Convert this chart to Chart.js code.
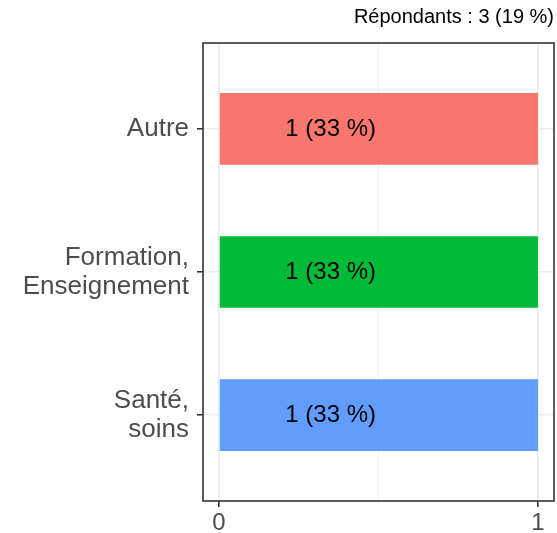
<!DOCTYPE html>
<html>
<head>
<meta charset="utf-8">
<script src="https://cdn.jsdelivr.net/npm/chart.js@4.4.1/dist/chart.umd.min.js"></script>
<style>
html, body { margin: 0; padding: 0; background: #fff; }
#wrap { width: 557px; height: 533px; }
</style>
</head>
<body>
<div id="wrap"><canvas id="chart"></canvas></div>
<script>
// categories from top to bottom, with the line breaks of the reference
var categories = [['Autre'], ['Formation,', 'Enseignement'], ['Santé,', 'soins']];
var counts = [1, 1, 1];
var barLabels = ['1 (33 %)', '1 (33 %)', '1 (33 %)'];
var xTicks = [0, 0.5, 1];
var xTickLabels = ['0', '', '1'];
var subtitle = 'Répondants : 3 (19 %)';

Chart.defaults.font.family = '"Liberation Sans", Arial, sans-serif';

// panel border like theme_bw, drawn over the bars
var panelBorder = {
	id: 'panelBorder',
	afterDatasetsDraw: function(chart){
		var a = chart.chartArea, ctx = chart.ctx;
		ctx.save();
		ctx.strokeStyle = '#333333';
		ctx.lineWidth = 1.6;
		ctx.strokeRect(a.left, a.top, a.right - a.left, a.bottom - a.top);
		ctx.restore();
	}
};

// "1 (33 %)" text inside each bar
var barText = {
	id: 'barText',
	afterDraw: function(chart){
		var ctx = chart.ctx;
		var x = chart.scales.x.getPixelForValue(0.35);
		ctx.save();
		ctx.font = '24px "Liberation Sans", Arial, sans-serif';
		ctx.fillStyle = '#000000';
		ctx.textAlign = 'center';
		ctx.textBaseline = 'middle';
		chart.getDatasetMeta(0).data.forEach(function(bar, i){
			ctx.fillText(barLabels[i], x, bar.y);
		});
		ctx.restore();
	}
};

new Chart(document.getElementById('chart'), {
	type: 'bar',
	data: {
		datasets: [{
			data: counts.map(function(v, i){ return {x: v, y: i}; }),
			backgroundColor: ['#F8766D', '#00BA38', '#619CFF'],
			borderWidth: 0,
			barPercentage: 1,
			categoryPercentage: 0.5
		}]
	},
	options: {
		indexAxis: 'y',
		responsive: true,
		maintainAspectRatio: false,
		animation: false,
		layout: { padding: { left: 0, right: 3, top: 0, bottom: 0 } },
		plugins: {
			legend: { display: false },
			tooltip: { enabled: false },
			title: {
				display: true,
				text: subtitle,
				align: 'end',
				color: '#000000',
				font: { size: 20, weight: 'normal' },
				padding: { top: 5, bottom: 14 }
			}
		},
		scales: {
			x: {
				type: 'linear',
				min: -0.05,
				max: 1.05,
				afterBuildTicks: function(scale){
					scale.ticks = xTicks.map(function(v){ return {value: v}; });
				},
				afterFit: function(scale){ scale.height = 32; },
				ticks: {
					color: '#4D4D4D',
					font: { size: 24, lineHeight: 1 },
					padding: 4,
					maxRotation: 0,
					callback: function(v, i){ return xTickLabels[i]; }
				},
				grid: {
					color: function(c){ return c.tick && c.tick.value === 0.5 ? '#F2F2F2' : '#EBEBEB'; },
					lineWidth: function(c){ return c.tick && c.tick.value === 0.5 ? 1 : 1.6; },
					tickColor: function(c){ return c.tick && c.tick.value === 0.5 ? 'rgba(0,0,0,0)' : '#333333'; },
					tickLength: 6,
					tickWidth: 1.6
				},
				border: { display: false }
			},
			y: {
				type: 'linear',
				reverse: true,
				offset: false,
				min: -0.6,
				max: 2.6,
				afterBuildTicks: function(scale){
					scale.ticks = categories.map(function(c, i){ return {value: i}; });
				},
				afterFit: function(scale){ scale.width = 203; },
				ticks: {
					color: '#4D4D4D',
					font: { size: 26, lineHeight: 1.12 },
					padding: 8,
					callback: function(v){ return categories[v]; }
				},
				grid: {
					offset: false,
					color: '#EBEBEB',
					lineWidth: 1.6,
					tickColor: '#333333',
					tickLength: 6,
					tickWidth: 1.6
				},
				border: { display: false }
			}
		}
	},
	plugins: [panelBorder, barText]
});
</script>
</body>
</html>
